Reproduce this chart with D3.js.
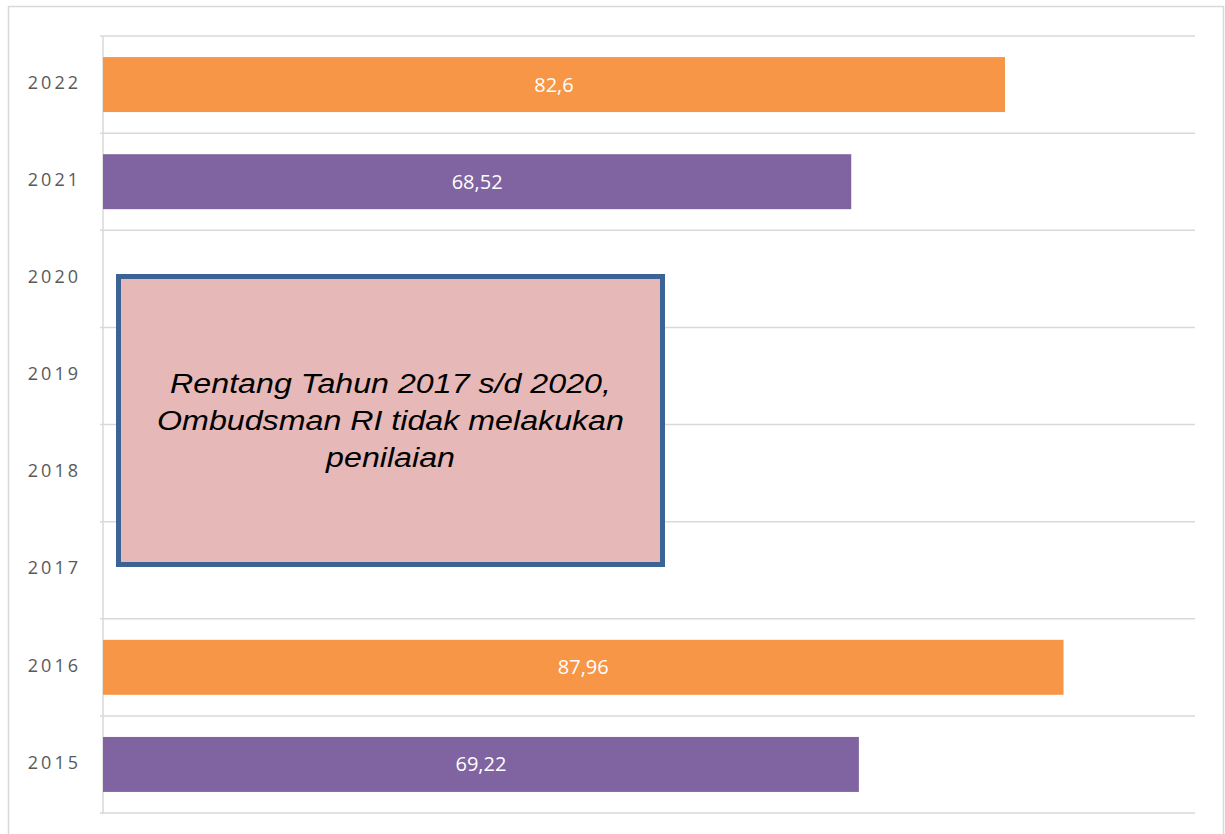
<!DOCTYPE html>
<html>
<head>
<meta charset="utf-8">
<script src="https://cdn.jsdelivr.net/npm/d3@7"></script>
<style>
  body { margin: 0; background: #fff; }
  .tick-label { font-family: "Open Sans", sans-serif; font-size: 18px; fill: #595959; letter-spacing: 3px; }
  .value-label { font-family: "Open Sans", sans-serif; font-size: 20px; fill: #fff; }
  .note { font-family: "Liberation Sans", Arial, sans-serif; font-style: italic; font-size: 28px; fill: #000; }
</style>
</head>
<body>
<div class="chart"></div>
<script>
// Data
var years = ["2022", "2021", "2020", "2019", "2018", "2017", "2016", "2015"];
var values = [82.6, 68.52, null, null, null, null, 87.96, 69.22];
var valueLabels = ["82,6", "68,52", "", "", "", "", "87,96", "69,22"];
var barColors = ["#F79646", "#8064A2", null, null, null, null, "#F79646", "#8064A2"];
var noteLines = ["Rentang Tahun 2017 s/d 2020,", "Ombudsman RI tidak melakukan", "penilaian"];

var svgWidth = 1225;
var svgHeight = 834;
var margin = { top: 36, right: 30, bottom: 21, left: 103 };
var width = svgWidth - margin.left - margin.right;
var height = svgHeight - margin.top - margin.bottom;

var svg = d3.select(".chart")
  .append("svg")
  .attr("width", svgWidth)
  .attr("height", svgHeight);

// outer frame
svg.append("rect")
  .attr("x", 8.5)
  .attr("y", 6.5)
  .attr("width", 1215)
  .attr("height", 840)
  .attr("fill", "none")
  .attr("stroke", "#d9d9d9")
  .attr("stroke-width", 1.5);

var chart = svg.append("g")
  .attr("transform", "translate(" + margin.left + "," + margin.top + ")");

var data = years.map(function(y, i) {
  return { year: y, value: values[i], label: valueLabels[i], color: barColors[i] };
});

var xScale = d3.scaleLinear().domain([0, 100]).range([0, width]);
var yScale = d3.scaleBand().domain(years).range([0, height]).paddingInner(0.434).paddingOuter(0.217);
var step = yScale.step();

// gridlines at band boundaries
var bounds = years.map(function(y) { return yScale(y) - yScale.paddingOuter() * step; });
bounds.push(height);
chart.selectAll(".grid")
  .data(bounds)
  .enter()
  .append("line")
  .attr("class", "grid")
  .attr("x1", -3)
  .attr("x2", width)
  .attr("y1", function(d) { return d; })
  .attr("y2", function(d) { return d; })
  .attr("stroke", "#d9d9d9")
  .attr("stroke-width", 1.5);

// axis line
chart.append("line")
  .attr("x1", 0).attr("x2", 0)
  .attr("y1", 0).attr("y2", height + 1)
  .attr("stroke", "#d9d9d9")
  .attr("stroke-width", 1.5);

// y labels
chart.selectAll(".tick-label")
  .data(years)
  .enter()
  .append("text")
  .attr("class", "tick-label")
  .attr("x", -22)
  .attr("y", function(d) { return yScale(d) + yScale.bandwidth() / 2 - 2; })
  .attr("dy", "0.35em")
  .attr("text-anchor", "end")
  .text(function(d) { return d; });

var withValues = data.filter(function(d) { return d.value !== null; });

chart.selectAll(".bar")
  .data(withValues)
  .enter()
  .append("rect")
  .attr("class", "bar")
  .attr("x", 0)
  .attr("y", function(d) { return yScale(d.year); })
  .attr("width", function(d) { return xScale(d.value); })
  .attr("height", yScale.bandwidth())
  .attr("fill", function(d) { return d.color; });

chart.selectAll(".value-label")
  .data(withValues)
  .enter()
  .append("text")
  .attr("class", "value-label")
  .attr("x", function(d) { return xScale(d.value) / 2; })
  .attr("y", function(d) { return yScale(d.year) + yScale.bandwidth() / 2; })
  .attr("dy", "0.35em")
  .attr("text-anchor", "middle")
  .text(function(d) { return d.label; });

// annotation box
svg.append("rect")
  .attr("x", 118.5)
  .attr("y", 276.5)
  .attr("width", 544)
  .attr("height", 288)
  .attr("fill", "#E6B8B7")
  .attr("stroke", "#3B6396")
  .attr("stroke-width", 5);

// the note text is a bit wider than plain Arial, stretch it horizontally
var note = svg.append("g")
  .attr("transform", "translate(390.5,0) scale(1.15,1)");

note.selectAll(".note")
  .data(noteLines)
  .enter()
  .append("text")
  .attr("class", "note")
  .attr("x", 0)
  .attr("y", function(d, i) { return 393 + i * 37; })
  .attr("text-anchor", "middle")
  .text(function(d) { return d; });
</script>
</body>
</html>
